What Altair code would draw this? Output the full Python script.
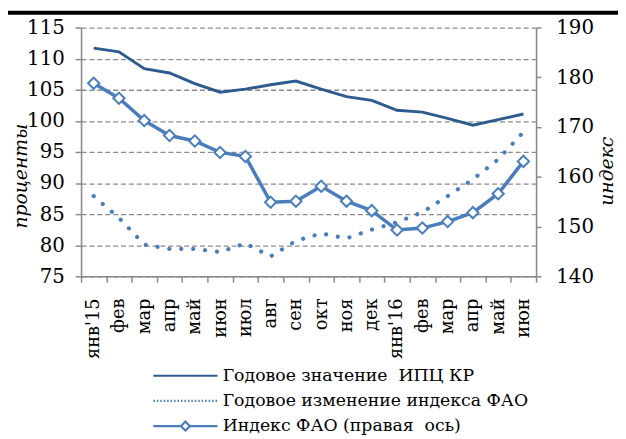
import altair as alt
import pandas as pd

months = ["янв'15", "фев", "мар", "апр", "май", "июн", "июл", "авг", "сен",
          "окт", "ноя", "дек", "янв'16", "фев", "мар", "апр", "май", "июн"]
cpi = [111.7, 111.1, 108.4, 107.7, 106.0, 104.6, 105.1, 105.8, 106.4,
       105.1, 103.9, 103.3, 101.7, 101.4, 100.4, 99.3, 100.2, 101.1]
fao_yoy = [87.9, 84.4, 80.1, 79.4, 79.4, 78.9, 80.3, 78.2, 80.7,
           81.9, 81.1, 82.5, 83.7, 85.3, 87.9, 90.6, 93.8, 98.2]
fao_index = [178.8, 175.8, 171.3, 168.3, 167.2, 164.9, 164.1, 154.9, 155.1,
             158.1, 155.1, 153.2, 149.3, 149.7, 151.0, 152.8, 156.6, 163.1]
series = ["Годовое значение\u00a0 ИПЦ КР",
          "Годовое изменение индекса ФАО",
          "Индекс ФАО (правая\u00a0 ось)"]
left_ticks = [75, 80, 85, 90, 95, 100, 105, 110, 115]
right_ticks = [140, 150, 160, 170, 180, 190]

DARK = "#2E5B8E"
BLUE = "#4A7EBB"
GRAY = "#8A8A8A"
FONT = "DejaVu Serif"

df = pd.DataFrame({"i": list(range(len(months))), "cpi": cpi,
                   "yoy": fao_yoy, "fao": fao_index})

label_expr = "[" + ",".join('"' + m + '"' for m in months) + "][datum.value]"

x = alt.X("i:O", bandPosition=0.5,
          scale=alt.Scale(type="band", paddingInner=0, paddingOuter=0),
          axis=alt.Axis(title=None, tickBand="extent", labelExpr=label_expr,
                        labelAngle=270, labelAlign="right", labelBaseline="middle",
                        labelFontSize=18, tickSize=6, labelPadding=16, grid=False))

left_axis = alt.Axis(title="проценты", values=left_ticks, grid=True, tickSize=6,
                     labelPadding=11, titleFontStyle="italic", titleFontWeight="normal",
                     titleFontSize=19, titleAngle=270, titleX=-61, titleY=150,
                     titleAlign="center", titleBaseline="middle")
left_scale = alt.Scale(domain=[75, 115], nice=False, zero=False)

cpi_line = alt.Chart(df).mark_line(color=DARK, strokeWidth=3).encode(
    x=x, y=alt.Y("cpi:Q", scale=left_scale, axis=left_axis))
yoy_line = alt.Chart(df).mark_line(color=BLUE, strokeWidth=4.2, strokeDash=[0.1, 12],
                                   strokeCap="round").encode(
    x=x, y=alt.Y("yoy:Q", scale=left_scale, axis=left_axis))

leg = alt.Legend(title=None, orient="none", legendX=97, legendY=344, direction="vertical",
                 labelFont=FONT, labelFontSize=17.5, labelColor="black", labelLimit=500,
                 symbolSize=169, symbolStrokeWidth=2.2, labelOffset=29, rowPadding=6.5)
line_path = "M-5,0H5"
diamond_path = "M-5,0H-0.7M0.7,0H5M0,-0.7L0.7,0L0,0.7L-0.7,0Z"
legend_layer = alt.Chart(df).transform_calculate(s="'x'").transform_filter("false").mark_point(
    filled=False, opacity=1, size=169, strokeWidth=2.2).encode(
    x=x, y=alt.Y("cpi:Q", scale=left_scale, axis=left_axis),
    color=alt.Color("s:N", scale=alt.Scale(domain=series, range=[DARK, BLUE, BLUE]), legend=leg),
    strokeDash=alt.StrokeDash("s:N", scale=alt.Scale(domain=series, range=[[1, 0], [1.5, 2], [1, 0]]), legend=leg),
    shape=alt.Shape("s:N", scale=alt.Scale(domain=series, range=[line_path, line_path, diamond_path]), legend=leg),
)

topline = alt.Chart(pd.DataFrame({"a": [0]})).mark_rule(color="black", strokeWidth=4).encode(
    x=alt.value(-74), x2=alt.value(544), y=alt.value(-15))

left = alt.layer(cpi_line, yoy_line, legend_layer, topline)

right = alt.Chart(df).mark_line(
    color=BLUE, strokeWidth=3.5,
    point=alt.OverlayMarkDef(shape="diamond", filled=True, fill="white", stroke=BLUE,
                             strokeWidth=2, size=130, opacity=1)).encode(
    x=x,
    y=alt.Y("fao:Q", scale=alt.Scale(domain=[140, 190], nice=False, zero=False),
            axis=alt.Axis(orient="right", title="индекс", values=right_ticks, grid=False,
                          tickSize=5, labelPadding=15, titleFontStyle="italic",
                          titleFontWeight="normal", titleFontSize=19, titleAngle=270,
                          titleX=71, titleY=145, titleAlign="center", titleBaseline="middle")))

chart = alt.layer(left, right).resolve_scale(y="independent").properties(
    width=461, height=252,
    padding={"left": 74, "top": 17, "right": 83, "bottom": 162},
    autosize=alt.AutoSizeParams(type="none"),
).configure_view(stroke=None).configure_axis(
    labelFont=FONT, titleFont=FONT,
    labelFontSize=20, labelColor="black", titleColor="black",
    domainColor=GRAY, tickColor=GRAY, gridColor=GRAY, gridDash=[5, 3], gridWidth=1.3,
    domainWidth=1.6, tickWidth=1.5,
)

chart.save("out.html", embed_options={"renderer": "svg", "actions": False})
